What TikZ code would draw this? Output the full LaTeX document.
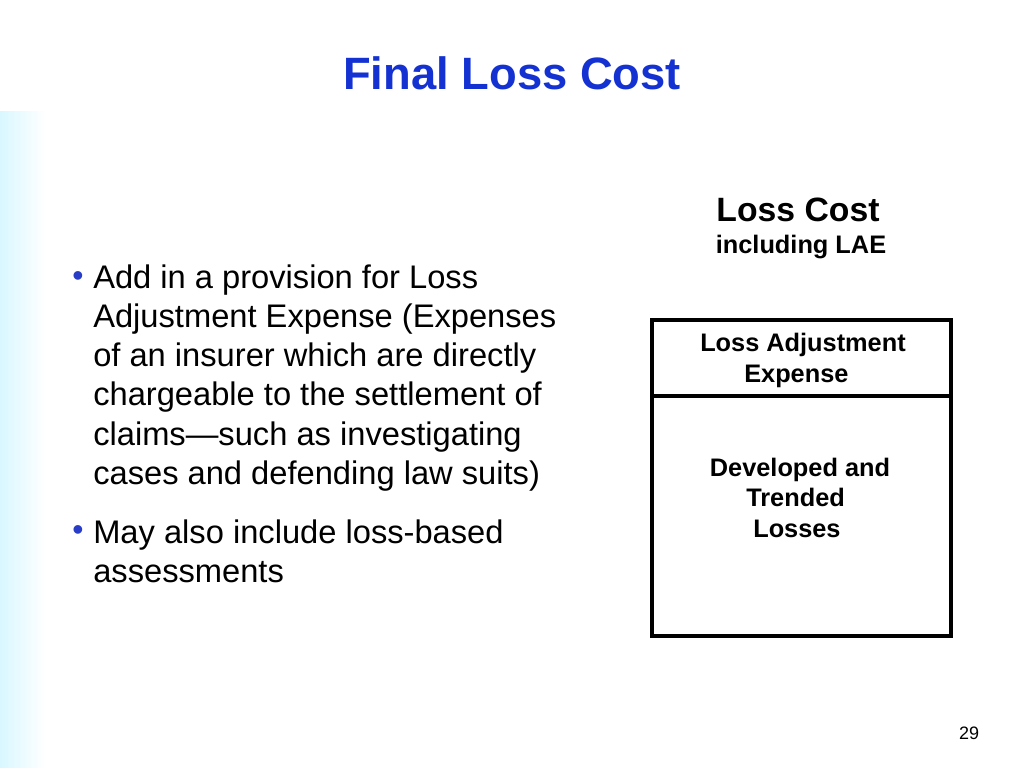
\documentclass[tikz,border=0pt]{standalone}
\usepackage{fontspec}
\setmainfont{Liberation Sans}
\usetikzlibrary{fadings}
\definecolor{ttl}{RGB}{20,50,210}
\definecolor{bul}{RGB}{40,60,200}
\begin{document}
\begin{tikzpicture}[x=0.75pt,y=-0.75pt,
  body/.style={anchor=base west,inner sep=0,font=\fontsize{24.5}{28}\selectfont},
  lbl/.style={anchor=base,inner sep=0,font=\bfseries\fontsize{19}{22}\selectfont}]
\useasboundingbox (0,0) rectangle (1024,768);
\fill[blue!20!cyan!15,path fading=east] (0,110) rectangle (45,768);
\node[anchor=base,inner sep=0,text=ttl,font=\bfseries\fontsize{34}{40}\selectfont] (title) at (512,89) {Final Loss Cost};
\node[anchor=base,inner sep=0,text=bul,font=\fontsize{24}{24}\selectfont] (b1) at (78,286) {•};
\node[anchor=base,inner sep=0,text=bul,font=\fontsize{24}{24}\selectfont] (b2) at (78,540) {•};
\node[body] (l1) at (93,288) {Add in a provision for Loss};
\node[body] (l2) at (93,327) {Adjustment Expense (Expenses};
\node[body] (l3) at (93,366) {of an insurer which are directly};
\node[body] (l4) at (93,405) {chargeable to the settlement of};
\node[body] (l5) at (93,445) {claims—such as investigating};
\node[body] (l6) at (93,484) {cases and defending law suits)};
\node[body] (l7) at (93,543) {May also include loss-based};
\node[body] (l8) at (93,582) {assessments};
\node[anchor=base,inner sep=0,font=\bfseries\fontsize{25.3}{28}\selectfont] (lc) at (798,221) {Loss Cost};
\node[lbl] (inc) at (801,253) {including LAE};
\draw[line width=2.6pt] (652,320) rectangle (951,636);
\draw[line width=2.6pt] (652,396) -- (951,396);
\node[lbl] (a1) at (803,351) {Loss Adjustment};
\node[lbl,anchor=base west] (a2) at (744,382) {Expense};
\node[lbl] (d1) at (800,476) {Developed and};
\node[lbl,anchor=base west] (d2) at (746,506) {Trended};
\node[lbl,anchor=base west] (d3) at (753,537) {Losses};
\node[anchor=base,inner sep=0,font=\fontsize{13.5}{15}\selectfont] (pg) at (969,739) {29};
\end{tikzpicture}
\end{document}
